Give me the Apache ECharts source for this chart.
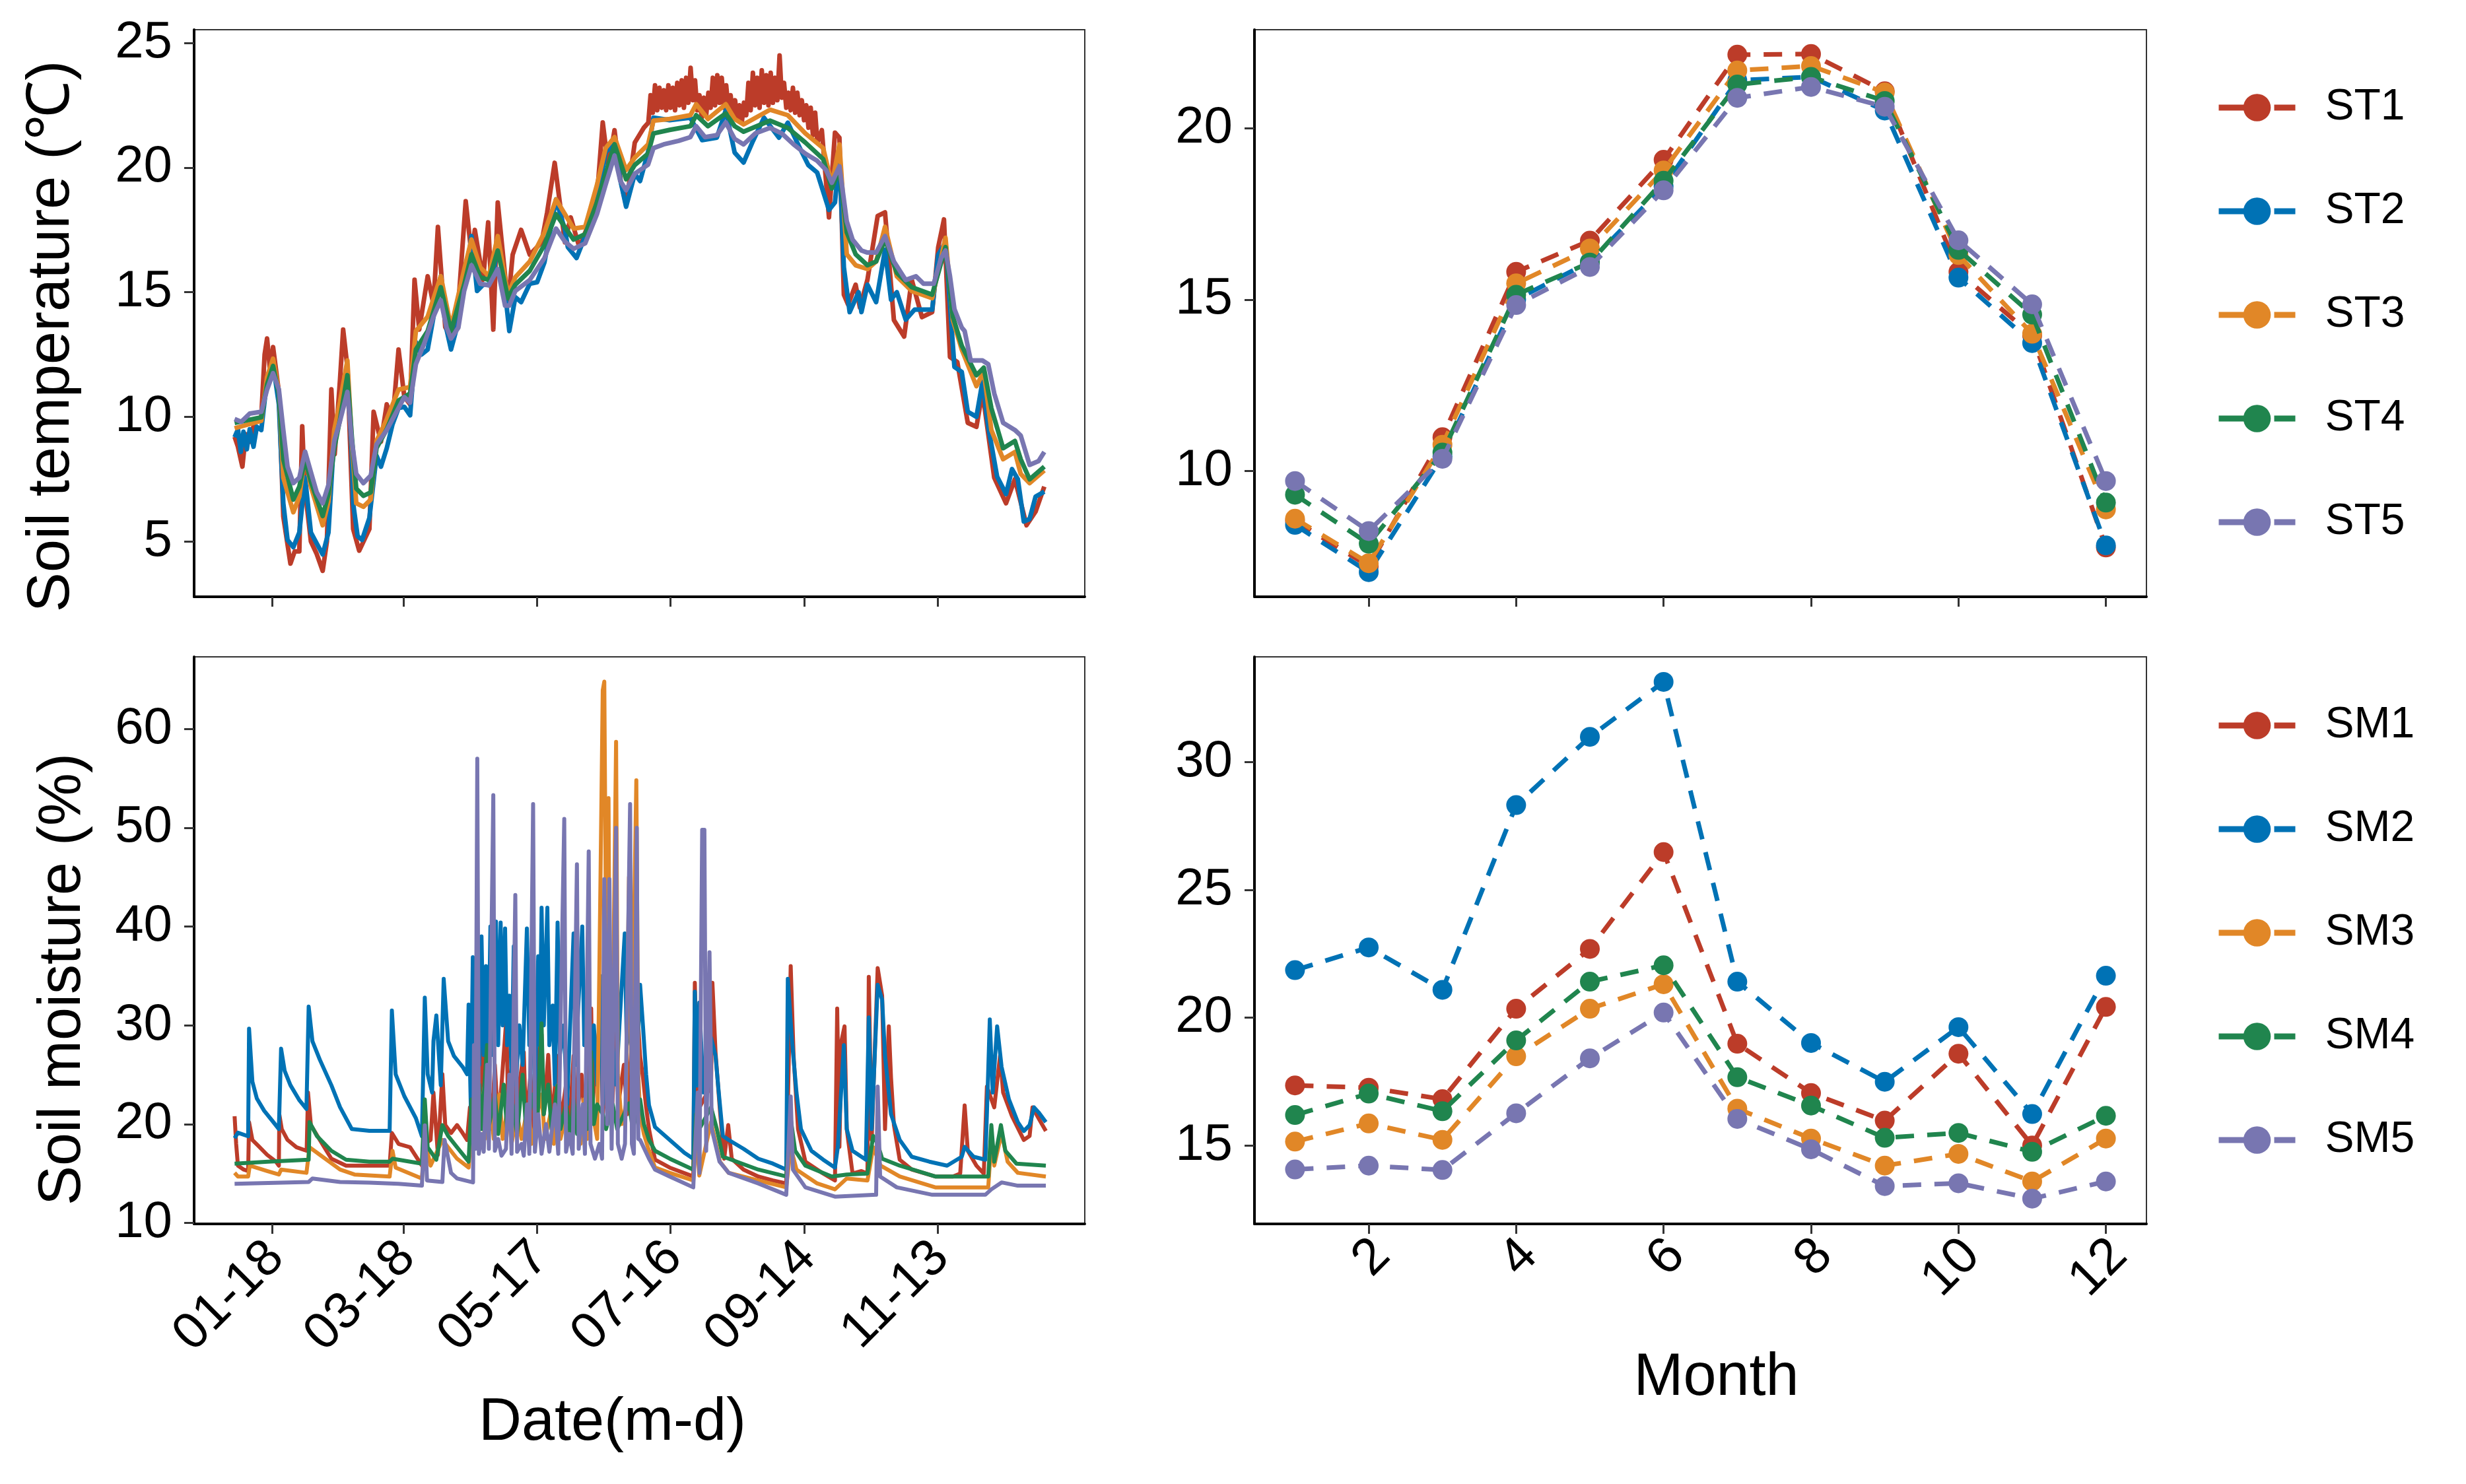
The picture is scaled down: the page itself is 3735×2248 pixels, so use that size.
<!DOCTYPE html>
<html><head><meta charset="utf-8">
<script src="https://cdn.jsdelivr.net/npm/echarts@6/dist/echarts.min.js"></script>
<style>html,body{margin:0;padding:0;background:#fff}#c{width:3735px;height:2248px}</style>
</head><body><div id="c"></div>
<script>
const colors = ['#BC3C29', '#0072B5', '#E18727', '#20854E', '#7876B1'];
const stNames = ['ST1', 'ST2', 'ST3', 'ST4', 'ST5'];
const smNames = ['SM1', 'SM2', 'SM3', 'SM4', 'SM5'];

// ---- monthly means (right panels) ----
const months = [1, 2, 3, 4, 5, 6, 7, 8, 9, 10, 11, 12];
const ST1_month = [8.54, 7.21, 10.98, 15.81, 16.72, 19.08, 22.15, 22.17, 21.08, 15.81, 13.95, 7.76];
const ST2_month = [8.42, 7.04, 10.42, 15.0, 16.1, 18.3, 21.4, 21.5, 20.52, 15.64, 13.73, 7.82];
const ST3_month = [8.6, 7.3, 10.76, 15.47, 16.49, 18.77, 21.69, 21.82, 21.05, 16.3, 14.0, 8.87];
const ST4_month = [9.3, 7.87, 10.53, 15.14, 16.08, 18.47, 21.28, 21.5, 20.8, 16.45, 14.56, 9.07];
const ST5_month = [9.7, 8.24, 10.35, 14.84, 15.95, 18.19, 20.89, 21.21, 20.63, 16.73, 14.86, 9.7];
const SM1_month = [17.35, 17.26, 16.81, 20.35, 22.69, 26.48, 18.98, 17.05, 15.97, 18.59, 15.0, 20.42];
const SM2_month = [21.86, 22.75, 21.09, 28.32, 30.99, 33.14, 21.41, 19.01, 17.49, 19.63, 16.23, 21.64];
const SM3_month = [15.15, 15.86, 15.22, 18.49, 20.35, 21.31, 16.44, 15.27, 14.21, 14.67, 13.59, 15.27];
const SM4_month = [16.19, 17.03, 16.34, 19.11, 21.41, 22.05, 17.67, 16.56, 15.3, 15.49, 14.75, 16.16];
const SM5_month = [14.06, 14.21, 14.04, 16.26, 18.41, 20.2, 16.04, 14.85, 13.41, 13.52, 12.92, 13.59];

// ---- daily-ish records (left panels): [day of year (0 = Jan 1), value] ----
const ST1_daily = [[0,9.2],[1.5,8.8],[3.5,8.0],[5,9.3],[6.8,9.0],[9,9.8],[12,10.0],[13.5,12.5],[14.6,13.14],[16,11.8],[17.3,12.8],[19.9,11.0],[21.9,6.0],[25.1,4.11],[27,4.6],[29.1,4.6],[30.4,9.62],[31.5,7.2],[34.3,5.0],[36.9,4.5],[39.6,3.82],[41.5,5.0],[43.5,11.1],[45,8.5],[47.4,11.5],[48.8,13.5],[50.7,12.0],[53.3,5.5],[56,4.63],[60.6,5.5],[62.5,10.2],[65.8,9.0],[68.4,10.5],[71,9.8],[73.7,12.7],[76.3,10.8],[78.9,10.5],[80.9,15.5],[83,13.5],[86.8,15.64],[89.4,14.5],[91.4,17.62],[94.7,13.6],[97.3,13.2],[100.6,14.5],[103.9,18.65],[106.5,16.5],[108,17.5],[111.7,15.5],[114,17.8],[116.3,13.5],[118.3,18.6],[122.9,14.5],[125,16.5],[128.8,17.5],[132.7,16.5],[138,17.0],[140.5,18.2],[143.9,20.19],[148.5,17.0],[151.1,18.0],[155,16.8],[160.3,18.0],[163.5,19.5],[165.5,21.81],[168,20.0],[170.8,21.5],[173.5,19.5],[176,18.5],[179.9,21.0],[184,21.6],[186,21.8],[187,22.9],[188,22.2],[189,23.3],[190,22.3],[191,23.2],[192,22.4],[193,23.1],[194,22.3],[195,23.3],[196,22.4],[197,23.2],[198,22.3],[199,23.4],[200,22.5],[201,23.5],[202,22.4],[203,23.6],[204,22.6],[205,24.0],[206,22.7],[207,23.5],[208,22.3],[209,22.9],[210,22.0],[211,22.8],[212,22.1],[213,23.0],[214,22.4],[215,23.6],[216,22.5],[217,23.7],[218,22.6],[219,23.6],[220,22.4],[221,23.3],[222,22.3],[223,22.9],[224,22.0],[225,22.7],[226,21.9],[227,22.5],[228,21.8],[229,22.6],[230,22.1],[231,23.4],[232,22.3],[233,23.8],[234,22.5],[235,23.6],[236,22.4],[237,23.9],[238,22.6],[239,23.7],[240,22.5],[241,23.8],[242,22.6],[243,23.6],[244,22.7],[245,24.5],[246,22.8],[247,23.4],[248,22.4],[249,23.0],[250,22.3],[251,23.2],[252,22.2],[253,23.0],[254,22.1],[255,22.7],[256,21.9],[257,22.5],[258,21.6],[259,22.4],[260,21.3],[261,22.2],[262,21.0],[264,21.5],[267.2,18.0],[269.9,21.4],[271.9,21.2],[273.9,14.9],[275.8,14.5],[279.2,15.3],[281.1,14.39],[284.5,15.5],[289.1,18.06],[292.4,18.2],[296.4,13.88],[301,13.22],[304.4,15.5],[309,14.0],[313.6,14.2],[316.3,16.8],[318.9,17.92],[321.6,12.4],[324.9,12.2],[329.6,9.76],[333.5,9.6],[336.2,11.0],[341.5,7.56],[346.8,6.53],[350.8,7.5],[356,5.65],[360.1,6.2],[364,7.2]];
const ST2_daily = [[0,9.18],[1.5,9.5],[2.8,8.59],[4,9.4],[5.5,8.7],[6.8,9.5],[8.5,8.8],[10,9.6],[12,9.47],[14.6,11.5],[17.3,12.11],[19.9,10.5],[21.9,6.53],[23.8,5.06],[26.4,4.77],[29.1,5.36],[31.7,7.56],[34.3,5.36],[36.9,4.92],[39.6,4.48],[42.2,5.36],[44.8,9.32],[47.4,10.5],[50.7,11.96],[52.7,8.5],[53.3,6.53],[55.3,5.21],[57.3,5.06],[60.6,5.94],[63.8,8.44],[65.8,8.0],[68.4,8.74],[71,9.7],[73.7,10.35],[76.3,10.4],[78.9,10.06],[81.5,13.0],[84,12.5],[86.8,12.7],[89.4,14.0],[92.7,15.64],[95.3,13.5],[97.3,12.7],[100.6,13.8],[103.2,15.2],[106.5,17.25],[109,15.05],[111.7,15.3],[114.3,15.3],[116.3,15.7],[118.3,16.96],[121,15.5],[123.5,13.44],[126.2,14.8],[128.8,14.6],[132.7,15.34],[136,15.4],[139.3,16.2],[144.5,18.72],[148.5,17.5],[149.8,16.81],[153.7,16.37],[157.6,17.25],[160.3,17.6],[162.9,18.6],[166.8,20.63],[170.8,20.93],[173.4,19.5],[176,18.43],[179.9,19.75],[182.3,19.46],[185.9,20.63],[188.3,22.0],[195.6,21.9],[204.9,22.0],[210.2,21.1],[216.8,21.2],[220.8,22.3],[224.8,20.6],[228.8,20.2],[232.7,21.0],[238,22.0],[244.7,21.2],[248.7,21.8],[254,20.8],[257.9,20.1],[261.9,19.8],[267.2,18.3],[269.9,18.6],[271.9,20.4],[273.9,16.0],[276.5,14.2],[280.5,15.0],[281.8,14.2],[284.5,15.3],[288.4,14.6],[292.4,16.7],[295.1,14.7],[297.7,15.0],[301.7,13.9],[305.7,14.3],[309.7,14.3],[313.6,14.3],[316.3,16.5],[319.6,17.0],[321.6,14.5],[323.6,12.0],[326.9,11.8],[329.6,10.2],[333.5,10.0],[336.2,11.4],[338.8,9.6],[342.8,7.6],[346.8,6.9],[349.5,7.9],[352.1,7.5],[354.8,5.8],[357.4,5.9],[360.1,6.8],[364,7.0]];
const ST3_daily = [[0,9.54],[12,9.84],[14.6,11.6],[17.3,12.33],[19.9,11.0],[21.9,7.56],[26.4,6.17],[29.1,6.8],[31.7,8.44],[34.3,7.2],[39.6,5.65],[42.2,6.6],[44.8,9.47],[47.4,10.6],[50.7,12.26],[52.7,9.0],[54.7,6.53],[57.9,6.39],[61.2,6.68],[63.8,9.03],[68.4,9.9],[73.7,11.09],[78.9,11.2],[81.5,13.44],[86.8,14.02],[92.7,15.64],[97.3,13.58],[103.2,15.9],[106.5,17.11],[110.4,16.0],[114.3,15.64],[118.3,17.25],[122.9,14.9],[126.2,15.6],[132.7,16.23],[139.3,17.4],[144.5,18.72],[152.4,17.55],[157.6,17.62],[162.9,19.3],[166.8,20.78],[170.8,21.22],[176,19.9],[179.9,20.4],[185.9,20.93],[188.3,21.88],[195.6,21.95],[204.9,22.1],[207.5,22.54],[212.8,21.95],[220.8,22.54],[224.8,21.95],[228.8,21.73],[240.7,22.32],[248.7,22.1],[256.6,21.37],[264.6,20.78],[268.5,19.31],[271.9,20.93],[275.2,16.52],[279.2,16.08],[284.5,15.93],[288.4,16.23],[292.4,17.62],[297.7,15.64],[304.4,15.05],[313.6,14.76],[319.6,17.18],[322.9,13.88],[326.9,12.7],[333.5,11.23],[336.8,11.82],[340.2,9.47],[345.5,8.3],[350.8,8.59],[353.4,7.71],[357.4,7.34],[364,7.85]];
const ST4_daily = [[0,9.76],[12,9.98],[14.6,11.3],[17.3,12.04],[19.9,10.9],[21.9,8.3],[26.4,6.68],[29.1,7.2],[31.7,8.3],[34.3,7.4],[39.6,6.02],[42.2,6.9],[44.8,8.74],[47.4,9.9],[50.7,11.67],[52.7,9.2],[54.7,7.12],[57.9,6.83],[61.2,6.97],[63.8,8.74],[68.4,9.5],[73.7,10.65],[78.9,10.94],[81.5,12.7],[86.8,13.44],[92.7,15.2],[97.3,13.44],[103.2,15.3],[106.5,16.52],[110.4,15.6],[114.3,15.49],[118.3,16.67],[122.9,14.76],[126.2,15.3],[132.7,15.86],[139.3,16.9],[144.5,18.13],[152.4,17.11],[157.6,17.33],[162.9,18.6],[166.8,19.75],[170.8,20.93],[176,19.53],[179.9,20.1],[185.9,20.56],[188.3,21.37],[195.6,21.51],[204.9,21.66],[207.5,22.1],[212.8,21.66],[220.8,22.17],[224.8,21.66],[228.8,21.44],[240.7,21.88],[248.7,21.59],[256.6,21.0],[264.6,20.34],[268.5,19.16],[271.9,19.9],[275.2,17.4],[279.2,16.52],[284.5,16.08],[288.4,16.23],[292.4,17.11],[297.7,15.78],[304.4,15.2],[313.6,14.9],[319.6,16.81],[322.9,14.02],[326.9,12.85],[333.5,11.67],[336.8,11.97],[340.2,10.35],[345.5,8.74],[350.8,9.03],[353.4,8.3],[357.4,7.49],[364,8.0]];
const ST5_daily = [[0,9.91],[3,9.8],[6.8,10.13],[12,10.2],[14.6,11.09],[17.3,11.75],[19.9,11.1],[21.9,9.47],[23.8,8.0],[26.4,7.34],[29.1,7.56],[31.7,8.6],[34.3,7.78],[36.9,6.97],[39.6,6.53],[42.2,7.27],[44.8,9.03],[47.4,9.84],[50.7,11.0],[52.7,9.03],[54.7,7.71],[57.9,7.34],[61.2,7.64],[63.8,8.89],[68.4,9.47],[73.7,10.35],[76.3,10.79],[78.9,10.57],[81.5,12.11],[85.5,13.0],[89.4,14.02],[92.7,14.68],[95.3,13.58],[97.3,13.14],[100.6,13.58],[103.2,15.05],[106.5,16.08],[110.4,15.34],[114.3,15.27],[118.3,15.93],[121.6,14.46],[123.5,14.46],[126.2,15.05],[132.7,15.49],[139.3,16.37],[144.5,17.55],[148.5,17.03],[152.4,16.74],[157.6,16.96],[162.9,18.13],[166.8,19.31],[170.8,20.48],[173.4,19.46],[176,19.09],[179.9,19.75],[185.9,20.12],[188.3,20.78],[192.9,20.93],[199.6,21.07],[204.9,21.22],[207.5,21.66],[211.5,21.22],[216.8,21.3],[220.8,21.81],[224.8,21.15],[228.8,20.93],[234.1,21.37],[240.7,21.59],[246,21.37],[251.3,20.93],[256.6,20.56],[261.9,20.27],[265.9,19.9],[268.5,19.39],[271.9,20.05],[273.9,18.72],[275.2,17.84],[277.8,17.11],[281.8,16.67],[284.5,16.59],[288.4,16.59],[292.4,17.25],[296.4,16.23],[301.7,15.49],[306.3,15.64],[309.7,15.34],[314.3,15.34],[317.6,16.37],[319.6,16.67],[321.6,15.64],[323.6,14.32],[326.9,13.58],[328.2,13.44],[330.9,12.26],[336.2,12.26],[338.8,12.11],[341.5,10.94],[345.5,9.76],[350.8,9.47],[353.4,9.25],[357.4,8.07],[361.4,8.22],[364,8.59]];

const SM1_daily = [[0,20.8],[0.7,18.0],[1.5,15.8],[4.1,15.4],[6.1,15.25],[6.5,20.2],[8,18.4],[10.7,17.8],[14.6,16.9],[18.6,16.2],[19.9,15.8],[20.1,21.0],[21.2,19.5],[23.8,18.4],[27.8,17.66],[32.4,17.3],[33,23.2],[34.3,19.9],[38.3,18.4],[43.5,16.5],[50.1,15.8],[69.7,15.8],[70.7,19.1],[73.7,18.0],[78.9,17.66],[84.2,15.8],[85.5,18.0],[88.1,18.4],[89.4,23.2],[91.4,16.9],[93.4,25.05],[94.7,19.9],[97.3,19.1],[100,19.9],[102.5,19.1],[104.5,18.4],[105.8,21.7],[107,17],[108,24],[109.5,20],[111.7,29.1],[112.5,21],[114,25],[115.5,19.5],[117,26],[118.5,20],[120,24],[122.2,30.8],[123,21],[125,27],[126.5,19.5],[128,24],[130,27.3],[131,20],[133,25],[134.5,19],[136,26],[138,29.1],[139,21],[141,27],[142.5,20],[145.2,26.9],[146.5,20],[149,24],[150.5,19.5],[152.4,26.9],[153.5,20],[156,25],[157.5,20],[160.3,31.7],[161,22],[162.5,27],[164.5,30.6],[165.5,21],[168,26],[169.5,20.5],[171.5,30.2],[172.5,22],[175,26],[176.5,21],[178.5,28],[180,22],[181.3,30.6],[182.3,26.9],[183.6,24.7],[185,21.7],[186.3,19.5],[189,16.4],[195.6,15.6],[206.2,14.7],[206.9,34.3],[208.2,21.35],[214.2,23.9],[214.8,34.3],[216.2,27.3],[218.2,21.35],[220.1,16.5],[221.9,19.9],[223.5,16.5],[228.8,15.4],[235.4,14.7],[242,14.3],[248,14.0],[250,36.0],[251.3,26.9],[253.3,19.5],[256.6,16.2],[264.6,15.0],[269.9,14.3],[270.9,31.7],[271.9,17.7],[272.8,28.4],[274.2,29.9],[275.2,19.5],[277.8,15.0],[281.8,15.25],[284.5,15.0],[285.1,34.9],[286.4,18.4],[289.1,35.8],[291.1,33.0],[292.4,19.5],[294.1,29.9],[295.1,24.7],[296.4,19.9],[299,16.4],[304.4,15.4],[315,14.7],[322.9,14.7],[326.2,15.0],[328.2,21.9],[329.6,17.3],[333.5,15.8],[336.8,15.0],[338.2,23.8],[341.5,21.7],[344.1,26.9],[345.5,23.2],[349.5,20.8],[354.8,18.4],[357.4,18.8],[358.7,21.7],[361.4,20.6],[364.7,19.3]];
const SM2_daily = [[0,18.58],[1.5,19.13],[6.1,18.77],[6.5,29.67],[8,24.3],[10,22.6],[13.3,21.35],[17.3,20.24],[19.9,19.5],[20.9,27.64],[22.5,25.4],[25.1,23.94],[29,22.46],[32.3,21.54],[33.3,31.9],[35,28.38],[38.3,26.53],[43.5,23.94],[47.4,21.72],[52.7,19.5],[60.6,19.32],[69.7,19.32],[70.7,31.5],[72.4,25.05],[76.3,22.83],[81.5,20.6],[84.2,18.77],[85.5,32.8],[86.8,25.05],[88.8,23.2],[89.4,28.4],[90.7,31.0],[92.7,23.94],[94,34.7],[96,28.4],[98.6,26.9],[102.5,25.8],[104.5,25.05],[105.2,32.1],[106.2,21.7],[107.1,36.9],[108,27],[109,35],[110,26],[111,39],[112,27],[113,36],[114,25],[115,40],[116,27],[117.5,40.5],[118.5,28],[119.6,40.4],[120.5,30],[121.6,39.8],[122.5,28],[123.5,33],[124.5,25],[125.5,38],[126.5,24],[128,30],[129.5,26],[131.4,39.8],[132.5,28],[134,33],[135,23],[136.5,37],[137.2,28],[138,41.9],[139,30],[140.6,41.9],[141.5,28],[143,32],[144,24],[145.2,40.4],[146.2,27],[148,30],[149.5,22],[150.5,28],[152.4,39.3],[153.3,26],[154.5,32],[156.3,40.0],[157.2,28],[158.5,33],[160,25],[161.5,30],[163,24],[164.5,35],[165.5,22],[167,30],[168.5,22],[170,28],[171.5,24],[173,30],[175.4,39.3],[176.3,28],[178,30],[179.5,24],[181,27],[182.3,34.1],[183.6,29.9],[185,25.05],[186.3,21.9],[189,19.7],[195.6,18.4],[202.2,17.1],[206.2,16.5],[206.9,33.4],[207.8,23.9],[208.9,32.3],[210.8,23.2],[214.2,28.75],[216.2,26.9],[217.5,23.6],[219.5,18.8],[222.1,18.4],[228.8,17.5],[235.4,16.5],[242,16.0],[248,15.4],[248.7,34.7],[250.6,28.4],[252.6,23.2],[254.6,19.5],[259.3,17.3],[264.6,16.4],[269.9,15.6],[271.2,17.7],[273.9,28.0],[275.2,19.5],[277.8,17.3],[283.8,16.4],[285.1,30.8],[286.4,19.5],[289.1,34.1],[291.1,32.6],[292.4,26.9],[295.1,21.0],[299,18.4],[304.4,16.7],[312.3,16.2],[320.3,15.8],[326.9,16.7],[328.2,17.7],[332.2,16.7],[337.5,16.4],[338.2,21.0],[339.5,30.6],[340.8,23.2],[342.8,29.9],[344.8,25.8],[348.1,22.5],[352.1,20.2],[354.8,19.3],[357.4,19.9],[359.4,21.7],[361.4,21.2],[364.7,20.2]];
const SM3_daily = [[0,15.07],[1.5,14.7],[6.1,14.7],[6.8,15.8],[14.6,15.25],[19.9,14.9],[20.9,15.4],[32.3,15.07],[33.7,17.66],[38.3,16.9],[47.4,15.4],[53.9,14.9],[69.7,14.7],[71,17.3],[72.4,15.6],[84.2,14.5],[85.5,18.4],[88.1,15.8],[93.4,18.4],[100,16.5],[105.2,15.6],[107,21],[108.5,18.5],[111,23],[112.5,18.5],[115,22],[116.5,18.5],[119,23],[120.5,18.5],[123,22],[124.5,18],[127,21],[129,18.5],[132,22],[133.5,18],[136,21],[138,23],[139.5,18.5],[142,21],[143.5,18],[145.2,23.9],[146.5,18.5],[149,21],[151,18],[154,21],[155.5,18],[157,22.5],[158.5,18.5],[161,21],[163,18.5],[164.5,45],[165.5,63.9],[166.2,64.8],[166.8,45],[167.5,30],[168.1,53.0],[168.8,25],[170,30],[171.5,58.7],[172.3,25],[174,20],[176,22],[177.3,45],[178.5,25],[180.6,54.8],[181.5,25],[182.3,21.0],[184,19],[186.3,17.3],[189,15.6],[195.6,15.07],[206.2,14.3],[207.5,19.5],[208.9,14.8],[214.2,20.2],[218.2,16.2],[222.1,15.07],[235.4,14.3],[248,13.6],[250,17.66],[252.6,15.4],[261.9,14.0],[269.9,13.4],[275.2,14.5],[284.5,14.3],[287.1,17.66],[290.4,15.8],[299,14.7],[315,13.6],[338.8,13.6],[340.2,18.4],[341.5,15.8],[344.8,19.1],[347.5,16.2],[352.1,15.07],[364.7,14.7]];
const SM4_daily = [[0,16.0],[15,16.2],[33.3,16.4],[33.7,20.2],[37,18.8],[43.5,17.3],[50.1,16.4],[60.6,16.2],[69.7,16.2],[71,16.5],[84.2,16.0],[85.5,22.5],[86.8,17.66],[90.7,16.4],[93.4,19.9],[96,18.8],[100,17.66],[105.2,16.2],[106.5,22.5],[108,19],[110,24],[111,19.5],[113.5,28.0],[114.5,20],[117,23],[118.5,19],[121,24],[122.5,19.5],[125,22],[127,19],[129.5,25],[131,19.5],[134,23],[136,19.5],[138,30.2],[139,21],[141,24],[142.5,19.5],[145.2,23.9],[146.5,19.5],[149,22],[151,19],[152.4,22.5],[154,19],[157,22],[158.5,19.5],[160.3,27.3],[161.5,20],[163,22],[165.5,21.0],[167,19.5],[170,22],[172,19.5],[175,21],[177.3,22.1],[179,19.5],[182.3,22.5],[184,20],[186.3,18.4],[189,17.3],[195.6,16.5],[206.2,15.4],[207.5,21.0],[208.9,19.5],[214.2,21.7],[216.8,19.5],[219.5,16.7],[222.1,16.5],[235.4,15.4],[248,14.7],[250,20.6],[252,17.3],[256.6,15.8],[268.5,14.7],[275.2,14.9],[284.5,15.0],[287.1,18.8],[289.1,18.0],[291.1,16.5],[299,15.8],[315,14.7],[328.2,14.7],[338.8,14.7],[340.2,19.9],[341.5,16.2],[344.5,19.9],[346.5,17.3],[351.5,16.0],[364.7,15.8]];
const SM5_daily = [[0,13.96],[33.3,14.14],[35,14.5],[47.4,14.14],[60.6,14.07],[73.7,13.96],[84.2,13.77],[85.5,19.87],[86.5,14.3],[93.4,14.14],[94.4,18.4],[97.3,15.07],[100,14.5],[107.2,14.1],[107.6,28.0],[108.3,17.5],[109.1,57.0],[109.8,17.0],[111,19],[112,17.2],[113.5,26],[114.3,17.5],[116.3,53.3],[117,17.3],[118.5,18.5],[120,16.8],[122,17.5],[123.5,25],[124.5,17.0],[126.2,43.2],[127,17.2],[129,18],[130,16.8],[131.5,22],[132.5,17.0],[134.2,52.4],[135,17.2],[136.5,21],[138,17.0],[140,20],[141.5,17.2],[144,22],[145.5,17.0],[148.2,50.9],[149,17.2],[150.5,19],[152,17.0],[153.9,46.3],[154.7,17.5],[156.5,22],[157.5,17.0],[159.2,47.6],[160,18],[162,16.5],[164,18],[165.2,16.5],[166.2,44.8],[167.5,20],[168.5,44.8],[169.5,17.5],[171.5,50.0],[172.3,18],[174,16.5],[175.5,18],[177.8,52.4],[178.6,18],[179.5,17],[180.8,50.0],[181.5,18.5],[182.3,18.4],[186.3,16.5],[189,15.4],[195.6,14.7],[206.2,13.6],[208.2,23.2],[209,15.07],[210.2,49.8],[211.2,49.8],[212,17.3],[213.5,37.4],[214.5,19.5],[218,16.2],[222.1,15.07],[235.4,14.0],[248,12.85],[250,22.8],[251,15.4],[256.6,13.6],[269.9,12.66],[288.4,12.85],[289.1,23.8],[290.2,14.7],[297.7,13.6],[313.6,12.85],[337.5,12.85],[340.2,13.4],[344.8,14.1],[352.1,13.77],[364.7,13.77]];

// ---- tick labels ----
const dateTickDays = [17, 76, 136, 196, 256, 316];
const dateTickLabels = ['01-18', '03-18', '05-17', '07-16', '09-14', '11-13'];
const monthTicks = [2, 4, 6, 8, 10, 12];
const stDailyTicks = [5, 10, 15, 20, 25];
const smDailyTicks = [10, 20, 30, 40, 50, 60];
const stMonthTicks = [10, 15, 20];
const smMonthTicks = [15, 20, 25, 30];

const stDaily = [ST1_daily, ST2_daily, ST3_daily, ST4_daily, ST5_daily];
const smDaily = [SM1_daily, SM2_daily, SM3_daily, SM4_daily, SM5_daily];
const stMonth = [ST1_month, ST2_month, ST3_month, ST4_month, ST5_month];
const smMonth = [SM1_month, SM2_month, SM3_month, SM4_month, SM5_month];

const FONT = '"Liberation Sans", Arial, Helvetica, sans-serif';
const TICK_FS = 78, TITLE_FS = 90, LEG_FS = 66;

function xAxisBase(gridIndex, min, max, ticks, showLabels, formatter, margin, lineHeight) {
  return {
    type: 'value', gridIndex, min, max,
    axisLine: { show: true, onZero: false, lineStyle: { color: '#000', width: 4 } },
    axisTick: { show: true, length: 15, customValues: ticks, lineStyle: { color: '#333', width: 3 } },
    axisLabel: {
      show: showLabels, customValues: ticks, rotate: 45, fontSize: TICK_FS, color: '#000',
      fontFamily: FONT, margin: margin, align: 'right', verticalAlign: 'top', lineHeight: lineHeight, formatter
    },
    splitLine: { show: false }
  };
}
function yAxisBase(gridIndex, min, max, ticks) {
  return {
    type: 'value', gridIndex, min, max,
    axisLine: { show: true, onZero: false, lineStyle: { color: '#000', width: 4 } },
    axisTick: { show: true, length: 15, customValues: ticks, lineStyle: { color: '#333', width: 3 } },
    axisLabel: { customValues: ticks, fontSize: TICK_FS, color: '#000', fontFamily: FONT, margin: 33 },
    splitLine: { show: false }
  };
}
const dateFmt = v => { const i = dateTickDays.indexOf(Math.round(v)); return i >= 0 ? dateTickLabels[i] : ''; };
const monthFmt = v => String(Math.round(v));

const gridCommon = { show: true, borderColor: '#333', borderWidth: 2, backgroundColor: 'transparent' };
const grids = [
  Object.assign({ left: 294, top: 45, width: 1349, height: 859 }, gridCommon),
  Object.assign({ left: 294, top: 995, width: 1349, height: 859 }, gridCommon),
  Object.assign({ left: 1900, top: 45, width: 1351, height: 859 }, gridCommon),
  Object.assign({ left: 1900, top: 995, width: 1351, height: 859 }, gridCommon)
];

const xAxes = [
  xAxisBase(0, -18.2, 382.2, dateTickDays, false, dateFmt, 34, 15),
  Object.assign(xAxisBase(1, -18.2, 382.2, dateTickDays, true, dateFmt, 34, 15), {
    name: 'Date(m-d)', nameLocation: 'middle', nameGap: 257,
    nameTextStyle: { fontSize: TITLE_FS, color: '#000', fontFamily: FONT, padding: [0, 82, 0, 0] }
  }),
  xAxisBase(2, 0.45, 12.55, monthTicks, false, monthFmt, 16, 57),
  Object.assign(xAxisBase(3, 0.45, 12.55, monthTicks, true, monthFmt, 16, 57), {
    name: 'Month', nameLocation: 'middle', nameGap: 189,
    nameTextStyle: { fontSize: TITLE_FS, color: '#000', fontFamily: FONT, padding: [0, 0, 0, 48] }
  })
];
const yAxes = [
  Object.assign(yAxisBase(0, 2.78, 25.53, stDailyTicks), {
    name: 'Soil temperature (℃)', nameLocation: 'middle', nameGap: 170,
    nameTextStyle: { fontSize: TITLE_FS, color: '#000', fontFamily: FONT, padding: [0, 70, 0, 0] }
  }),
  Object.assign(yAxisBase(1, 9.9, 67.3, smDailyTicks), {
    name: 'Soil moisture (%)', nameLocation: 'middle', nameGap: 153,
    nameTextStyle: { fontSize: TITLE_FS, color: '#000', fontFamily: FONT, padding: [0, 118, 0, 0] }
  }),
  yAxisBase(2, 6.32, 22.88, stMonthTicks),
  yAxisBase(3, 11.93, 34.12, smMonthTicks)
];

const series = [];
// right panels first so legend icons come from them
stNames.forEach((n, i) => series.push({
  name: n, type: 'line', xAxisIndex: 2, yAxisIndex: 2,
  data: months.map((m, k) => [m, stMonth[i][k]]),
  symbol: 'circle', symbolSize: 30, showSymbol: true,
  lineStyle: { color: colors[i], width: 7, type: [28, 20] },
  itemStyle: { color: colors[i] }, z: 2 + i
}));
smNames.forEach((n, i) => series.push({
  name: n, type: 'line', xAxisIndex: 3, yAxisIndex: 3,
  data: months.map((m, k) => [m, smMonth[i][k]]),
  symbol: 'circle', symbolSize: 30, showSymbol: true,
  lineStyle: { color: colors[i], width: 7, type: [28, 20] },
  itemStyle: { color: colors[i] }, z: 2 + i
}));
stNames.forEach((n, i) => series.push({
  name: n, type: 'line', xAxisIndex: 0, yAxisIndex: 0, data: stDaily[i],
  symbol: 'none', showSymbol: false, lineStyle: { color: colors[i], width: 7, join: 'round' },
  itemStyle: { color: colors[i] }, z: 2 + i
}));
smNames.forEach((n, i) => series.push({
  name: n, type: 'line', xAxisIndex: 1, yAxisIndex: 1, data: smDaily[i],
  symbol: 'none', showSymbol: false, lineStyle: { color: colors[i], width: 6, join: 'round' },
  itemStyle: { color: colors[i] }, z: 2 + i
}));

const legendCommon = {
  orient: 'vertical', left: 3356, itemWidth: 116, itemHeight: 52, itemGap: 91, padding: 0,
  selectedMode: false,
  lineStyle: { width: 9, type: [38, 46] },
  textStyle: { fontSize: LEG_FS, color: '#000', fontFamily: FONT, padding: [0, 0, 0, 40] }
};
const legends = [
  Object.assign({ top: 130, data: stNames }, legendCommon),
  Object.assign({ top: 1066, data: smNames }, legendCommon)
];

const chart = echarts.init(document.getElementById('c'), null, { renderer: 'canvas' });
chart.setOption({
  animation: false,
  backgroundColor: '#fff',
  grid: grids, xAxis: xAxes, yAxis: yAxes, legend: legends, series
});
</script></body></html>
